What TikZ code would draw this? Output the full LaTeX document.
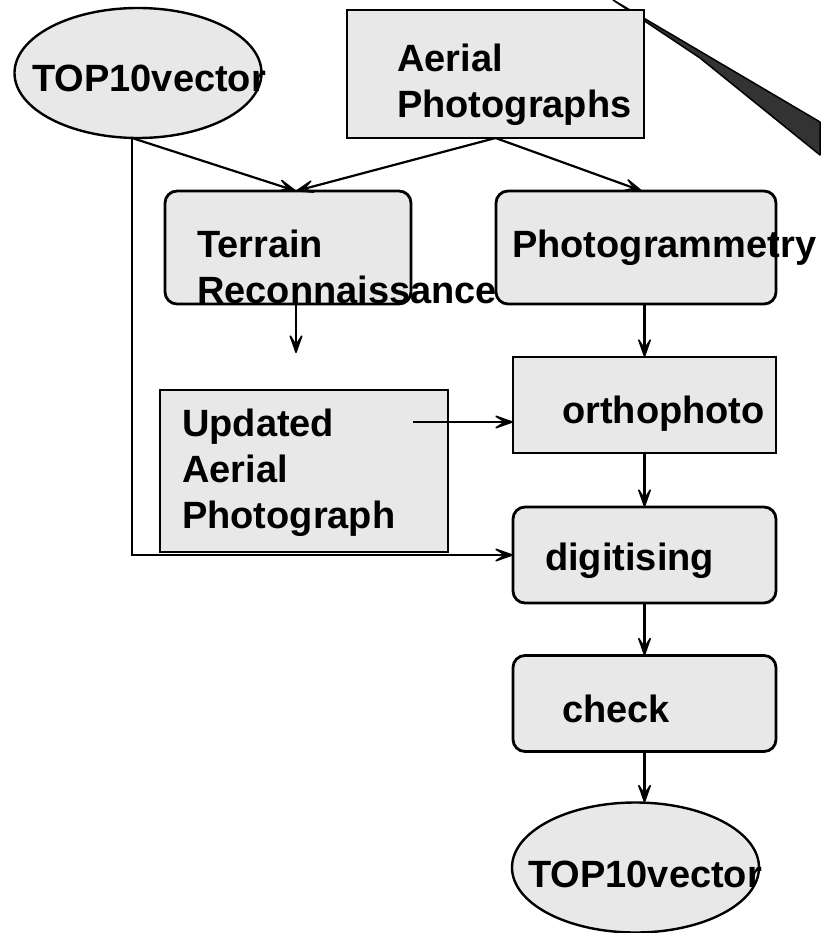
\documentclass[tikz,border=0pt]{standalone}
\usepackage{fontspec}
\setmainfont{Liberation Sans}
\usepackage{tikz}
\usetikzlibrary{shapes.geometric,arrows.meta,calc}
\definecolor{boxfill}{HTML}{E8E8E8}
\definecolor{wedgefill}{HTML}{333333}

\begin{document}
\begin{tikzpicture}[x=1pt,y=-1pt,
    shp/.style={draw,line width=2.8pt,fill=boxfill,inner sep=0pt,outer sep=0pt},
    sqbox/.style={shp,rectangle},
    rndbox/.style={shp,rectangle,rounded corners=12pt},
    ell/.style={shp,ellipse,line width=2.4pt},
    lbl/.style={anchor=base west,inner sep=0pt,align=left,
      font=\fontsize{38}{46}\selectfont\bfseries},
    conn/.style={line width=2.2pt,
      -{Stealth[length=24pt,width=17pt,inset=13pt,line width=1.5pt,round]}}]
  % Configurable parameters
  \def\boxw{263pt}          % Width of right-hand column boxes
  \def\boxh{96pt}           % Height of right-hand column boxes
  \def\ellw{247pt}          % Width of the ellipses
  \def\ellh{130pt}          % Height of the ellipses
  %
  \useasboundingbox (0,0) rectangle (820,933);
  %
  % Wedge behind the photograph box
  \filldraw[fill=wedgefill,draw=black,line width=1.5pt,line join=round]
    (613,0) -- (820,122) -- (820,155) -- (700,58) -- cycle;
  %
  % Shapes
  \node[ell,minimum width=\ellw,minimum height=\ellh] (topvec) at (138,73) {};
  \node[sqbox,minimum width=297pt,minimum height=128pt] (aerial) at (495.5,74) {};
  \node[rndbox,minimum width=246pt,minimum height=113pt] (terrain) at (288,247.5) {};
  \node[rndbox,minimum width=280pt,minimum height=113pt] (photogr) at (636,247.5) {};
  \node[sqbox,minimum width=288pt,minimum height=162pt] (updated) at (304,471) {};
  \node[sqbox,minimum width=\boxw,minimum height=\boxh] (ortho) at (644.5,405) {};
  \node[rndbox,minimum width=\boxw,minimum height=\boxh] (digit) at (644.5,555) {};
  \node[rndbox,minimum width=\boxw,minimum height=\boxh] (check) at (644.5,703.5) {};
  \node[ell,minimum width=\ellw,minimum height=\ellh] (botvec) at (635.5,867.5) {};
  %
  % Connectors
  \coordinate (topvec-out) at ([xshift=-6pt]topvec.south);
  \coordinate (terrain-end) at (296,353);
  \coordinate (updated-out) at (413,422);
  \draw[conn] (topvec-out) -- ([xshift=8pt]terrain.north);
  \draw[conn] (aerial.south) -- ([xshift=8pt]terrain.north);
  \draw[conn] (aerial.south) -- ([xshift=6pt]photogr.north);
  \draw[conn] ([xshift=8pt]terrain.south) -- (terrain-end);
  \draw[conn] (ortho.north |- photogr.south) -- (ortho.north);
  \draw[conn] (updated-out) -- (ortho.west |- updated-out);
  \draw[conn] (topvec-out) |- (digit.west);
  \draw[conn] (ortho.south) -- (digit.north);
  \draw[conn] (digit.south) -- (check.north);
  \draw[conn] (check.south) -- (check.south |- botvec.north);
  %
  % Labels
  \node[lbl] (topvec-txt) at (32,92) {TOP10vector};
  \node[lbl] (aerial-txt) at (397,118) {Aerial\\Photographs};
  \node[lbl] (terrain-txt) at (197,303) {Terrain\\Reconnaissance};
  \node[lbl] (photogr-txt) at (512,257) {Photogrammetry};
  \node[lbl] (updated-txt) at (182,528) {Updated\\Aerial\\Photograph};
  \node[lbl] (ortho-txt) at (562,423) {orthophoto};
  \node[lbl] (digit-txt) at (545,570) {digitising};
  \node[lbl] (check-txt) at (562,722) {check};
  \node[lbl] (botvec-txt) at (528,887) {TOP10vector};
  %
\end{tikzpicture}
\end{document}
